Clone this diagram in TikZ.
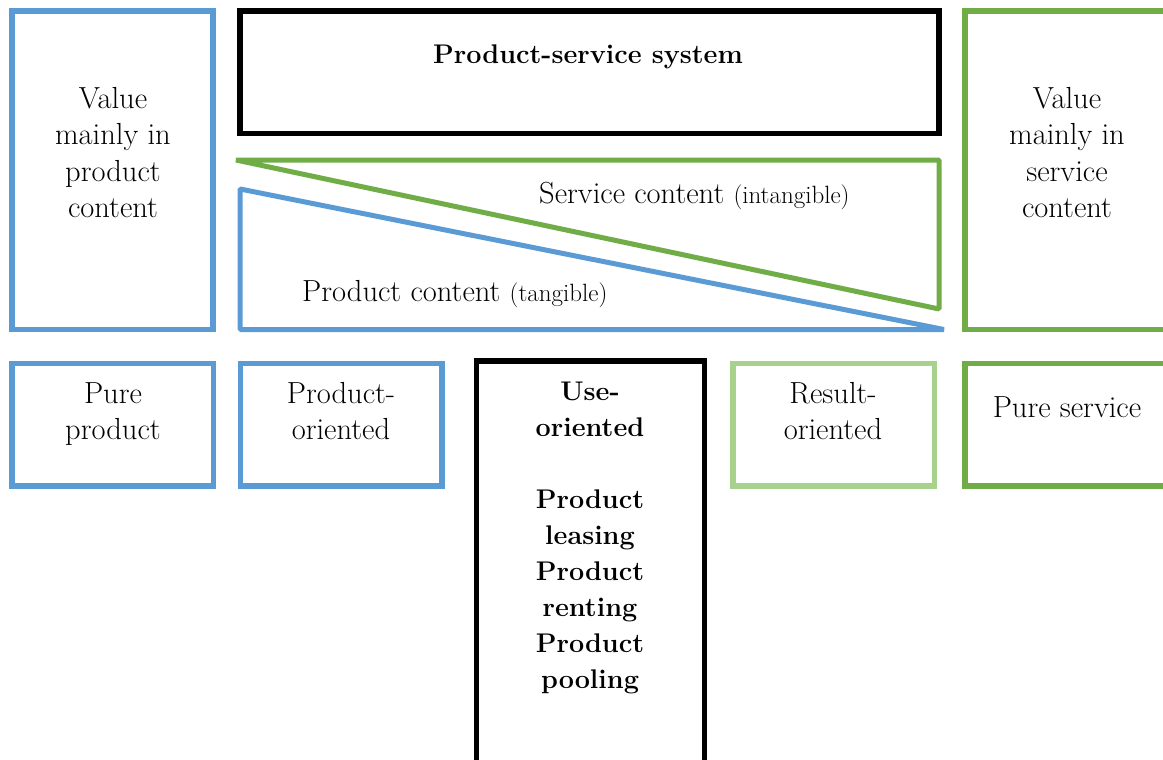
\documentclass[tikz,border=0pt]{standalone}
\usepackage{fontspec}
\usetikzlibrary{positioning}
\definecolor{pssblue}{HTML}{5B9BD5}
\definecolor{pssgreen}{HTML}{70AD47}
\definecolor{psslight}{HTML}{A9D18E}

\begin{document}
\begin{tikzpicture}[
  x=1pt, y=-1pt,
  box/.style={draw, line width=5.5pt, inner sep=0pt},
  tri/.style={line width=5pt, line join=bevel},
  txt/.style={font=\fontsize{30.5}{36.5}\selectfont, align=center, anchor=base, inner sep=0pt},
  btxt/.style={txt, font=\fontsize{27}{36}\selectfont\bfseries},
]
  \useasboundingbox (0,0) rectangle (1163,760);
  \clip (0,0) rectangle (1163,760);
  \fill[white] (0,0) rectangle (1163,760);

  % top row (text anchors sit on the last baseline)
  \node[box, pssblue, minimum width=201pt, minimum height=318.5pt] (VP) at (112.5,170.25) {};
  \node[box, minimum width=699pt, minimum height=122.5pt] (PSS) at (589.5,72.25) {};
  \node[box, pssgreen, minimum width=210pt, minimum height=318.5pt] (VS) at (1070,170.25) {};

  \node[txt] (VPt) at (113,217.5) {Value\\mainly in\\product\\content};
  \node[btxt] (PSSt) at (588,64) {Product-service system};
  \node[txt] (VSt) at (1067,217.5) {Value\\mainly in\\service\\content};

  % service / product content wedges
  \draw[tri, pssgreen] (236,160) -- (939,160) -- (939,309) -- cycle;
  \draw[tri, pssblue] (240,189) -- (240,329.5) -- (944,329.5) -- cycle;
  \node[txt, anchor=base west] (SC) at (539,203)
    {Service content {\fontsize{25}{28}\selectfont(intangible)}};
  \node[txt, anchor=base west] (PC) at (302,301)
    {Product content {\fontsize{25}{28}\selectfont(tangible)}};

  % bottom row
  \node[box, pssblue, minimum width=201.5pt, minimum height=122.5pt] (PP) at (112.75,424.75) {};
  \node[box, pssblue, minimum width=201.5pt, minimum height=122.5pt] (PO) at (341.25,424.75) {};
  \node[box, minimum width=228pt, minimum height=419pt] (UO) at (590.5,570.5) {};
  \node[box, psslight, minimum width=201.5pt, minimum height=122.5pt] (RO) at (833.75,424.75) {};
  \node[box, pssgreen, minimum width=210pt, minimum height=122.5pt] (PS) at (1070,424.75) {};

  \node[txt] (PPt) at (113,439.5) {Pure\\product};
  \node[txt] (POt) at (341,439.5) {Product-\\oriented};
  \node[btxt] (UOt) at (590,688)
    {Use-\\oriented\\[36pt]Product\\leasing\\Product\\renting\\Product\\pooling};
  \node[txt] (ROt) at (833,439.5) {Result-\\oriented};
  \node[txt] (PSt) at (1067,417) {Pure service};
\end{tikzpicture}
\end{document}
